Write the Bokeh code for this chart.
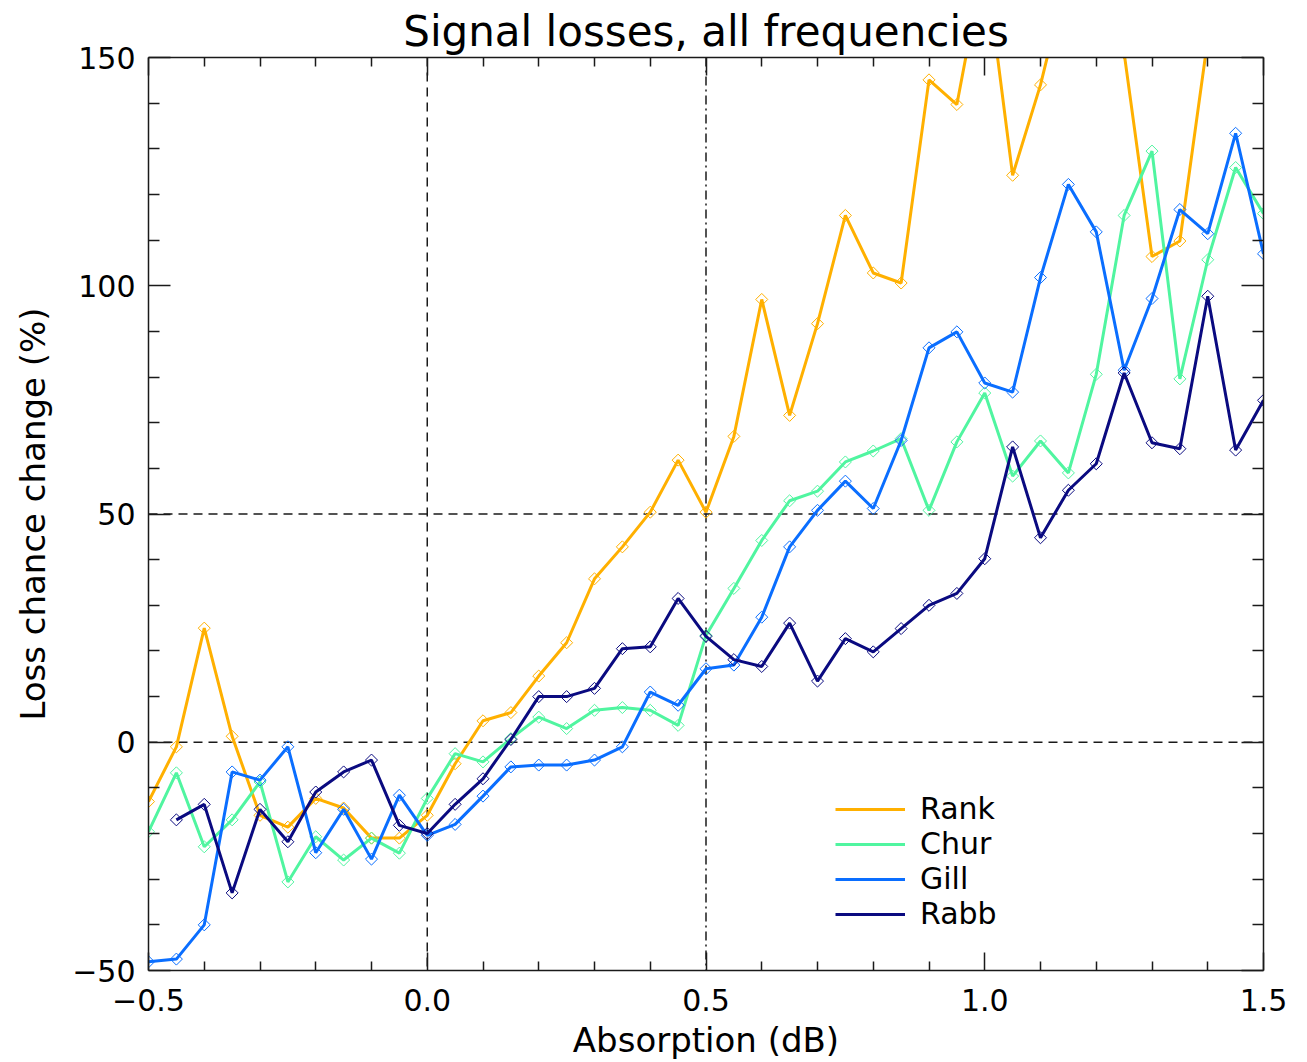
import math
from bokeh.plotting import figure
from bokeh.models import (FixedTicker, Span, Legend, LegendItem, LinearAxis, Range1d)
from bokeh.embed import file_html
from bokeh.resources import INLINE

absorption = [-0.50, -0.45, -0.40, -0.35, -0.30, -0.25, -0.20, -0.15, -0.10, -0.05,
              0.00, 0.05, 0.10, 0.15, 0.20, 0.25, 0.30, 0.35, 0.40, 0.45,
              0.50, 0.55, 0.60, 0.65, 0.70, 0.75, 0.80, 0.85, 0.90, 0.95,
              1.00, 1.05, 1.10, 1.15, 1.20, 1.25, 1.30, 1.35, 1.40, 1.45, 1.50]

rank = [-13, -1, 25, 1.3, -16, -18.6, -12.3, -14.4, -21, -21,
        -16, -4.7, 4.7, 6.5, 14.5, 21.8, 35.8, 42.8, 50.4, 61.8,
        50.4, 67, 97, 71.6, 91.7, 115.4, 102.8, 100.6, 145.1, 139.7,
        172, 124.2, 144, 169, 162, 151, 106.4, 109.8, 154, 175, 170]

chur = [-19.6, -6.7, -22.9, -17, -8.7, -30.6, -20.7, -25.8, -21, -24.3,
        -12.3, -2.5, -4.3, 0.8, 5.5, 3, 7, 7.6, 7, 3.7,
        23.4, 33.7, 44.2, 52.9, 55, 61.4, 63.8, 66.5, 50.8, 65.8,
        76.5, 58.3, 66, 59, 80.6, 115.4, 129.5, 79.6, 105.7, 125.9, 115.8]

gill = [-48.1, -47.5, -40, -6.5, -8.3, -1, -24.2, -14.7, -25.6, -11.6,
        -20.4, -18, -11.8, -5.4, -5, -5, -3.9, -1, 11, 8.1,
        16.1, 16.9, 27.4, 42.8, 50.8, 57.2, 51.2, 66.1, 86.4, 89.9,
        78.7, 76.7, 101.8, 122.2, 111.8, 81.5, 97.2, 116.7, 111.4, 133.4, 107]

rabb = [float("nan"), -17, -13.6, -33, -14.7, -21.8, -10.9, -6.5, -3.9, -18.2,
        -20, -13.6, -8, 0.6, 10, 10, 11.8, 20.5, 20.9, 31.5,
        23.2, 18.1, 16.6, 26.1, 13.4, 22.7, 19.8, 24.9, 30, 32.6,
        40.2, 64.7, 44.8, 55.2, 61, 80.9, 65.6, 64.3, 97.7, 64, 74.9]

series_names = ["Rank", "Chur", "Gill", "Rabb"]
series_colors = ["#FFB000", "#50F5A0", "#0A6EFF", "#0A0A80"]

title_text = "Signal losses, all frequencies"
x_ticks = [-0.5, 0.0, 0.5, 1.0, 1.5]
x_tick_labels = ["\u22120.5", "0.0", "0.5", "1.0", "1.5"]
x_minor = [-0.4, -0.3, -0.2, -0.1, 0.1, 0.2, 0.3, 0.4, 0.6, 0.7, 0.8, 0.9,
           1.1, 1.2, 1.3, 1.4]
y_ticks = [-50, 0, 50, 100, 150]
y_tick_labels = ["\u221250", "0", "50", "100", "150"]
y_minor = [-40, -30, -20, -10, 10, 20, 30, 40, 60, 70, 80, 90, 110, 120, 130, 140]

dashed_h = [0, 50]
dashed_v = [0.0]
dashdot_v = [0.5]

FONT = "DejaVu Sans"
AX = "#1a1a1a"
FW, FH = 1115, 913

p = figure(frame_width=FW, frame_height=FH,
           x_range=Range1d(-0.5, 1.5), y_range=Range1d(-50, 150),
           output_backend="svg", toolbar_location=None,
           min_border_left=148, min_border_right=28, min_border_top=57,
           min_border_bottom=90, title=title_text)
p.xgrid.visible = False
p.ygrid.visible = False
p.outline_line_color = None
p.background_fill_color = "white"

p.title.text_font = FONT
p.title.text_font_size = "42px"
p.title.text_font_style = "normal"
p.title.align = "center"
p.title.vertical_align = "top"
p.title.text_color = "black"
p.title.standoff = 0
if "text_line_height" in p.title.properties():
    p.title.text_line_height = 0.9

def style_axis(ax, ticks, minor, labels, major_len, minor_len, show_labels):
    ax.ticker = FixedTicker(ticks=ticks, minor_ticks=minor)
    ax.major_tick_in = major_len
    ax.major_tick_out = 0
    ax.minor_tick_in = minor_len
    ax.minor_tick_out = 0
    ax.axis_line_color = AX
    ax.axis_line_width = 1.5
    ax.major_tick_line_color = AX
    ax.major_tick_line_width = 1.5
    ax.minor_tick_line_color = AX
    ax.minor_tick_line_width = 1.5
    if show_labels:
        ax.major_label_overrides = {t: l for t, l in zip(ticks, labels)}
        ax.major_label_text_font = FONT
        ax.major_label_text_font_size = "30px"
        ax.major_label_text_color = "black"
    else:
        ax.major_label_overrides = {t: "" for t in ticks}
        ax.major_label_text_font_size = "0px"
        ax.major_label_standoff = 0

xa = p.xaxis[0]
style_axis(xa, x_ticks, x_minor, x_tick_labels, 18, 9, True)
xa.major_label_standoff = 18
xa.axis_label = "Absorption (dB)"
xa.axis_label_text_font = FONT
xa.axis_label_text_font_size = "34px"
xa.axis_label_text_font_style = "normal"
xa.axis_label_text_color = "black"
xa.axis_label_standoff = 6

ya = p.yaxis[0]
style_axis(ya, y_ticks, y_minor, y_tick_labels, 22, 11, True)
ya.major_label_standoff = 13
ya.axis_label = "Loss chance change (%)"
ya.axis_label_text_font = FONT
ya.axis_label_text_font_size = "34px"
ya.axis_label_text_font_style = "normal"
ya.axis_label_text_color = "black"
ya.axis_label_standoff = 16

top = LinearAxis()
style_axis(top, x_ticks, x_minor, x_tick_labels, 18, 9, False)
p.add_layout(top, "above")
right = LinearAxis()
style_axis(right, y_ticks, y_minor, y_tick_labels, 22, 11, False)
p.add_layout(right, "right")

for v in dashed_h:
    p.add_layout(Span(location=v, dimension="width", line_color=AX,
                      line_width=1.5, line_dash="9 6", level="underlay"))
for v in dashed_v:
    p.add_layout(Span(location=v, dimension="height", line_color=AX,
                      line_width=1.5, line_dash="9 6", level="underlay"))
for v in dashdot_v:
    p.add_layout(Span(location=v, dimension="height", line_color=AX,
                      line_width=1.5, line_dash="9 4 2 4", level="underlay"))

items = []
for name, color, vals in zip(series_names, series_colors, [rank, chur, gill, rabb]):
    xs = [a for a, v in zip(absorption, vals) if not math.isnan(v)]
    ys = [v for v in vals if not math.isnan(v)]
    ln = p.line(xs, ys, line_color=color, line_width=3)
    p.scatter(xs, ys, marker="square", angle=math.pi / 4, size=8.5,
              fill_color=None, line_color=color, line_width=1)
    items.append(LegendItem(label=name, renderers=[ln]))

legend = Legend(items=items, location=(687, 39), glyph_width=70, glyph_height=34,
                label_standoff=15, label_text_font=FONT, label_text_font_size="30px",
                label_text_color="black", padding=0, margin=0, spacing=0,
                border_line_color=None, background_fill_alpha=0)
p.add_layout(legend)

open("out.html", "w").write(file_html(p, INLINE))
